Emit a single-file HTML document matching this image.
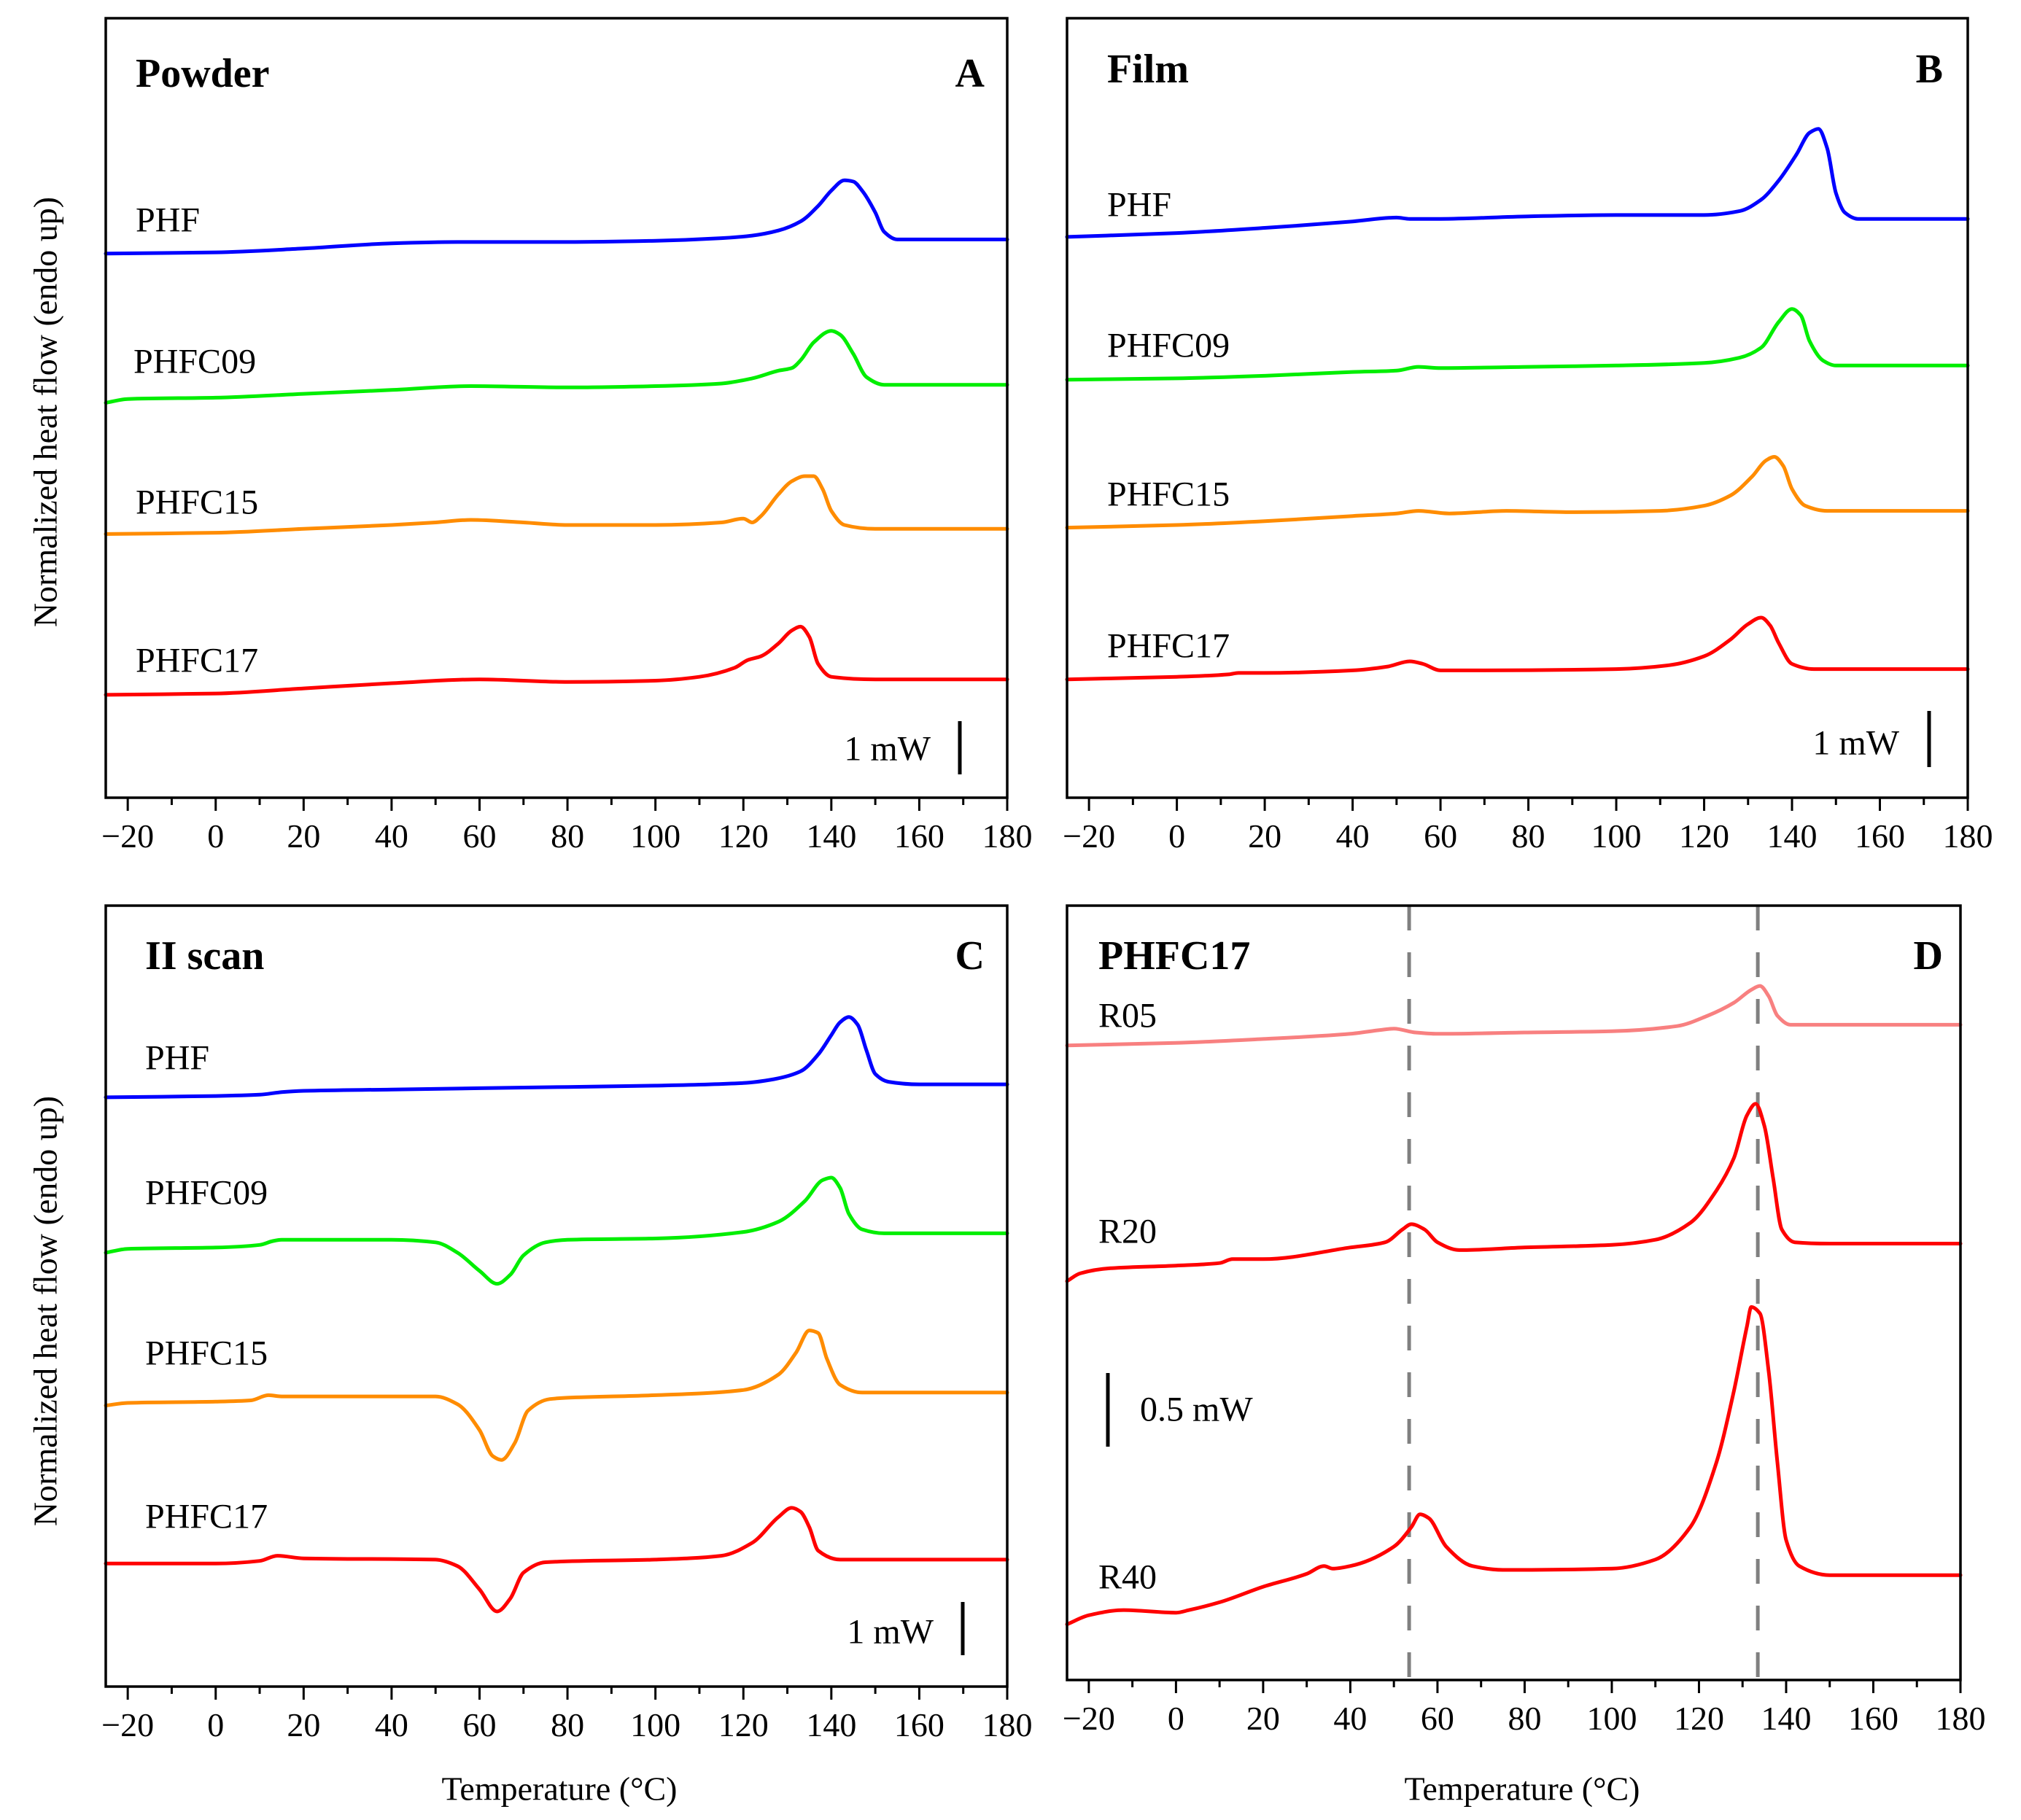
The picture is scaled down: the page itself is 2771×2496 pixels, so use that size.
<!DOCTYPE html>
<html><head><meta charset="utf-8"><style>
html,body{margin:0;padding:0;background:#fff;}
svg{display:block;font-family:"Liberation Serif",serif;}
</style></head><body>
<svg id="fig" width="2771" height="2496" viewBox="0 0 2771 2496" xmlns="http://www.w3.org/2000/svg"></svg>
<script>
// ---- data (temperature in °C, heat flow in arbitrary offset units) ----
const xTicks = [-20,0,20,40,60,80,100,120,140,160,180];
const xMinor = [-10,10,30,50,70,90,110,130,150,170];

const A_PHF_T = [-25,0,20,40,55,80,100,115,122,128,133,137,140,143,145,147,150,152,155,165,180];
const A_PHF_V = [423,424,427,431,432,432,433,435,437,441,448,460,472,480,479,472,455,440,434,434,434];
const A_C09_T = [-25,-20,0,20,40,58,80,100,115,122,128,131,133,136,140,142,145,148,152,180];
const A_C09_V = [307,310,311,314,317,320,319,320,322,326,332,334,340,354,363,360,345,327,321,321];
const A_C15_T = [-25,0,20,40,50,58,70,80,100,115,120,122,124,128,131,134,136,138,140,143,150,180];
const A_C15_V = [205,206,209,212,214,216,214,212,212,214,217,214,219,236,246,250,250,240,223,212,209,209];
const A_C17_T = [-25,0,20,40,60,80,100,110,118,121,124,128,131,133,135,137,140,150,180];
const A_C17_V = [80,81,85,89,92,90,91,94,101,107,110,120,130,133,125,104,94,92,92];

const B_PHF_T = [-25,0,20,40,50,53,60,80,100,120,128,133,137,141,144,146,148,150,152,155,180];
const B_PHF_V = [436,439,443,448,451,450,450,452,453,453,456,465,480,500,517,520,505,470,455,450,450];
const B_C09_T = [-25,0,20,40,50,55,60,80,100,120,128,133,137,140,142,144,147,150,180];
const B_C09_V = [325,326,328,331,332,335,334,335,336,338,342,350,370,380,375,355,340,336,336];
const B_C15_T = [-25,0,20,40,50,55,62,75,90,110,120,126,131,134,136,138,140,143,148,180];
const B_C15_V = [210,212,215,219,221,223,221,223,222,223,227,235,250,262,265,258,240,227,223,223];
const B_C17_T = [-25,0,12,14,20,40,48,53,56,60,70,100,112,120,126,130,133,135,137,140,145,180];
const B_C17_V = [92,94,96,97,97,99,102,106,104,99,99,100,103,110,123,135,140,134,120,104,100,100];

const C_PHF_T = [-25,0,10,15,20,40,60,80,100,120,127,133,137,140,142,144,146,148,150,153,160,180];
const C_PHF_V = [455,456,457,459,460,461,462,463,464,466,469,475,488,503,513,517,511,491,473,467,465,465];
const C_C09_T = [-25,-20,0,10,13,15,20,40,50,55,60,64,67,70,75,80,100,120,128,134,138,140,142,144,147,152,180];
const C_C09_V = [335,338,339,341,344,345,345,345,343,335,321,311,318,333,343,345,346,351,359,375,391,393,385,365,353,350,350];
const C_C15_T = [-25,-20,0,8,12,15,20,50,55,60,63,65,68,71,76,80,100,120,128,132,135,137,139,142,147,180];
const C_C15_V = [217,219,220,221,225,224,224,224,218,198,178,175,188,213,222,223,225,229,241,258,275,273,253,233,227,227];
const C_C17_T = [-25,0,10,14,20,50,55,60,64,67,70,75,100,115,122,128,131,133,135,137,142,180];
const C_C17_V = [95,95,97,101,99,98,93,75,58,68,88,96,98,101,111,131,138,135,123,105,98,98];

const D_R05_T = [-25,0,20,40,47,50,55,60,80,100,115,122,128,132,134,136,138,141,150,180];
const D_R05_V = [490,492,495,499,502,503,500,499,500,501,505,513,523,533,536,528,513,506,506,506];
const D_R20_T = [-25,-22,-15,0,10,13,20,40,48,52,54,57,60,65,80,100,110,118,124,128,131,133,135,137,139,142,150,180];
const D_R20_V = [308,314,318,320,322,325,325,334,338,348,352,348,338,332,334,336,340,353,378,403,436,445,428,388,348,338,337,337];
const D_R40_T = [-25,-20,-12,0,3,10,20,30,34,36,40,50,54,56,58,62,68,75,100,110,118,124,128,131,132,134,136,138,140,143,150,180];
const D_R40_V = [43,50,54,52,54,60,72,82,88,86,88,103,118,128,125,103,88,85,86,93,118,168,223,273,288,283,238,168,108,88,81,81];
const D_dashT = [53.5,133.5];

const NS = "http://www.w3.org/2000/svg";
const svg = document.getElementById('fig');
function el(tag, attrs, parent){ const e=document.createElementNS(NS,tag); for(const k in attrs) e.setAttribute(k,attrs[k]); (parent||svg).appendChild(e); return e; }
function txt(s, attrs, parent){ const e=el('text',attrs,parent); e.textContent=s; return e; }

// monotone cubic (in x) interpolation path
function monotone(pts){
  const n=pts.length, dx=[], sl=[], m=[];
  for(let i=0;i<n-1;i++){ dx[i]=pts[i+1][0]-pts[i][0]; sl[i]=(pts[i+1][1]-pts[i][1])/dx[i]; }
  m[0]=sl[0]; m[n-1]=sl[n-2];
  for(let i=1;i<n-1;i++){
    if(sl[i-1]*sl[i]<=0) m[i]=0;
    else { const w1=2*dx[i]+dx[i-1], w2=dx[i]+2*dx[i-1]; m[i]=(w1+w2)/(w1/sl[i-1]+w2/sl[i]); }
  }
  let d=`M${pts[0][0].toFixed(1)},${pts[0][1].toFixed(1)}`;
  for(let i=0;i<n-1;i++){
    const h=dx[i]/3;
    d+=`C${(pts[i][0]+h).toFixed(1)},${(pts[i][1]+m[i]*h).toFixed(1)} ${(pts[i+1][0]-h).toFixed(1)},${(pts[i+1][1]-m[i+1]*h).toFixed(1)} ${pts[i+1][0].toFixed(1)},${pts[i+1][1].toFixed(1)}`;
  }
  return d;
}

function panel(cfg){
  const g=el('g',{});
  
  
  const {L,R,T,B,ymax}=cfg;
  const xs=t=>L+(t-(-25))/(180-(-25))*(R-L);
  const ys=v=>B-v/ymax*(B-T);
  (cfg.dashes||[]).forEach(t=>{
    const l=el('line',{x1:xs(t),x2:xs(t),y1:T,y2:B,stroke:'#808080','stroke-width':5,'stroke-dasharray':'34,30'},g);
    
    
  });
  cfg.series.forEach(s=>{
    const pts=s.t.map((t,i)=>[xs(t),ys(s.v[i])]);
    const p=el('path',{d:monotone(pts),fill:'none',stroke:s.color,'stroke-width':5,'stroke-linejoin':'round','stroke-linecap':'round'},g);
    
    
    const lb=txt(s.label,{x:s.lx,y:s.ly,'font-size':48,'dominant-baseline':'central'},g);
    
    
  });
  const fr=el('rect',{x:L,y:T,width:R-L,height:B-T,fill:'none',stroke:'#000','stroke-width':3.5},g);
  
  
  xTicks.forEach(t=>{
    const tk=el('line',{x1:xs(t),x2:xs(t),y1:B,y2:B+18,stroke:'#000','stroke-width':3},g);
    
    
    const lb=txt(String(t).replace('-','\u2212'),{x:xs(t),y:B+68,'font-size':46,'text-anchor':'middle'},g);
    
    
  });
  xMinor.forEach(t=>{
    const tk=el('line',{x1:xs(t),x2:xs(t),y1:B,y2:B+10,stroke:'#000','stroke-width':3},g);
    
    
  });
  const t1=txt(cfg.title,{x:cfg.tx,y:cfg.ty,'font-size':56,'font-weight':'bold','dominant-baseline':'central'},g);
  
  
  const t2=txt(cfg.letter,{x:cfg.lx,y:cfg.ty,'font-size':56,'font-weight':'bold','dominant-baseline':'central','text-anchor':'end'},g);
  
  
  const sb=el('line',{x1:cfg.sb.x,x2:cfg.sb.x,y1:cfg.sb.y1,y2:cfg.sb.y2,stroke:'#000','stroke-width':5},g);
  
  
  const sbt=txt(cfg.sb.label,{x:cfg.sb.tx,y:cfg.sb.ty,'font-size':48,'dominant-baseline':'central','text-anchor':cfg.sb.anchor},g);
  
  
}

panel({name:'panel-a-powder',L:145,R:1381,T:25,B:1094,ymax:606,title:'Powder',letter:'A',tx:186,ty:101,lx:1350,
  sb:{x:1316,y1:989,y2:1062,label:'1 mW',tx:1276,ty:1027,anchor:'end'},
  series:[
   {name:'phf-curve',t:A_PHF_T,v:A_PHF_V,color:'#0000ff',label:'PHF',lx:186,ly:302},
   {name:'phfc09-curve',t:A_C09_T,v:A_C09_V,color:'#00ee00',label:'PHFC09',lx:183,ly:496},
   {name:'phfc15-curve',t:A_C15_T,v:A_C15_V,color:'#ff8c00',label:'PHFC15',lx:186,ly:689},
   {name:'phfc17-curve',t:A_C17_T,v:A_C17_V,color:'#ff0000',label:'PHFC17',lx:186,ly:906}]});
panel({name:'panel-b-film',L:1463,R:2698,T:25,B:1094,ymax:606,title:'Film',letter:'B',tx:1518,ty:95,lx:2664,
  sb:{x:2645,y1:975,y2:1052,label:'1 mW',tx:2604,ty:1019,anchor:'end'},
  series:[
   {name:'phf-curve',t:B_PHF_T,v:B_PHF_V,color:'#0000ff',label:'PHF',lx:1518,ly:281},
   {name:'phfc09-curve',t:B_C09_T,v:B_C09_V,color:'#00ee00',label:'PHFC09',lx:1518,ly:474},
   {name:'phfc15-curve',t:B_C15_T,v:B_C15_V,color:'#ff8c00',label:'PHFC15',lx:1518,ly:678},
   {name:'phfc17-curve',t:B_C17_T,v:B_C17_V,color:'#ff0000',label:'PHFC17',lx:1518,ly:886}]});
panel({name:'panel-c-second-scan',L:145,R:1381,T:1242,B:2313,ymax:603,title:'II scan',letter:'C',tx:199,ty:1311,lx:1350,
  sb:{x:1320,y1:2197,y2:2270,label:'1 mW',tx:1280,ty:2238,anchor:'end'},
  series:[
   {name:'phf-curve',t:C_PHF_T,v:C_PHF_V,color:'#0000ff',label:'PHF',lx:199,ly:1451},
   {name:'phfc09-curve',t:C_C09_T,v:C_C09_V,color:'#00ee00',label:'PHFC09',lx:199,ly:1636},
   {name:'phfc15-curve',t:C_C15_T,v:C_C15_V,color:'#ff8c00',label:'PHFC15',lx:199,ly:1856},
   {name:'phfc17-curve',t:C_C17_T,v:C_C17_V,color:'#ff0000',label:'PHFC17',lx:199,ly:2080}]});
panel({name:'panel-d-phfc17-rates',L:1463,R:2688,T:1242,B:2304,ymax:598,title:'PHFC17',letter:'D',tx:1506,ty:1311,lx:2664,dashes:D_dashT,
  sb:{x:1519,y1:1883,y2:1984,label:'0.5 mW',tx:1563,ty:1933,anchor:'start'},
  series:[
   {name:'r05-curve',t:D_R05_T,v:D_R05_V,color:'#f88080',label:'R05',lx:1506,ly:1393},
   {name:'r20-curve',t:D_R20_T,v:D_R20_V,color:'#ff0000',label:'R20',lx:1506,ly:1689},
   {name:'r40-curve',t:D_R40_T,v:D_R40_V,color:'#ff0000',label:'R40',lx:1506,ly:2163}]});

[[62,565],[62,1798]].forEach(([x,y])=>{
  const t=txt('Normalized heat flow (endo up)',{x:x,y:y,'font-size':46,'text-anchor':'middle','dominant-baseline':'central',transform:`rotate(-90 ${x} ${y})`});
  
  
});
[767,2087].forEach(x=>{
  const t=txt('Temperature (°C)',{x:x,y:2453,'font-size':46,'text-anchor':'middle','dominant-baseline':'central'});
  
  
});
</script>
</body></html>
